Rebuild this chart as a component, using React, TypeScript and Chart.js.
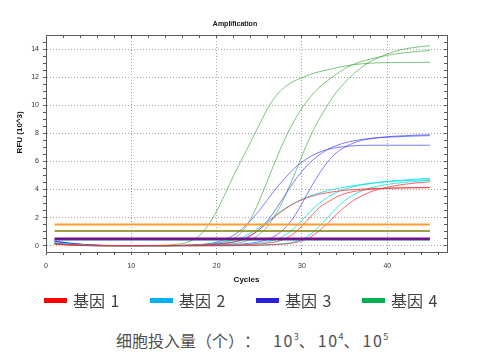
import { useEffect, useRef } from "react";
import { Chart, registerables } from "chart.js";

Chart.register(...registerables);

// ---- data ----
const cycles = [1, 2, 3, 4, 5, 6, 7, 8, 9, 10, 11, 12, 13, 14, 15, 16, 17, 18, 19, 20, 21, 22, 23, 24, 25, 26, 27, 28, 29, 30, 31, 32, 33, 34, 35, 36, 37, 38, 39, 40, 41, 42, 43, 44, 45];

// gene 1 (red)
const gene1A = [0.15, 0.1, 0.07, 0.04, 0.02, 0.01, 0, 0, 0, 0, 0, 0, 0, 0, 0.01, 0.02, 0.03, 0.05, 0.08, 0.12, 0.18, 0.28, 0.45, 0.75, 1.15, 1.65, 2.15, 2.6, 2.98, 3.28, 3.5, 3.66, 3.78, 3.87, 3.94, 3.99, 4.03, 4.06, 4.08, 4.1, 4.11, 4.12, 4.13, 4.14, 4.15];
const gene1B = [0.15, 0.1, 0.06, 0.03, 0.01, 0, 0, 0, 0, 0, 0, 0, 0, 0, 0, 0, 0, 0, 0, 0.01, 0.02, 0.03, 0.05, 0.08, 0.12, 0.18, 0.28, 0.48, 0.85, 1.4, 2.05, 2.7, 3.1, 3.45, 3.7, 3.85, 3.95, 4.01, 4.05, 4.08, 4.1, 4.11, 4.12, 4.12, 4.13];
const gene1C = [0.12, 0.08, 0.05, 0.02, 0, 0, 0, 0, 0, 0, 0, 0, 0, 0, 0, 0, 0, 0, 0, 0, 0, 0, 0.01, 0.02, 0.03, 0.05, 0.08, 0.12, 0.2, 0.35, 0.62, 1.05, 1.6, 2.2, 2.75, 3.2, 3.55, 3.82, 4.02, 4.17, 4.28, 4.37, 4.44, 4.5, 4.55];

// gene 2 (cyan)
const gene2A = [0.2, 0.14, 0.09, 0.06, 0.03, 0.01, 0, 0, 0, 0, 0, 0, 0, 0, 0.01, 0.02, 0.04, 0.07, 0.11, 0.17, 0.26, 0.4, 0.6, 0.9, 1.3, 1.75, 2.2, 2.65, 3.0, 3.3, 3.55, 3.75, 3.92, 4.05, 4.17, 4.27, 4.36, 4.44, 4.51, 4.57, 4.63, 4.68, 4.72, 4.76, 4.8];
const gene2B = [0.2, 0.14, 0.09, 0.05, 0.02, 0, 0, 0, 0, 0, 0, 0, 0, 0, 0, 0, 0, 0, 0.01, 0.02, 0.03, 0.05, 0.08, 0.12, 0.18, 0.28, 0.45, 0.75, 1.2, 1.8, 2.45, 3.0, 3.45, 3.78, 4.02, 4.2, 4.33, 4.43, 4.5, 4.56, 4.6, 4.63, 4.66, 4.68, 4.7];
const gene2C = [0.18, 0.12, 0.08, 0.04, 0.02, 0, 0, 0, 0, 0, 0, 0, 0, 0, 0, 0, 0, 0, 0, 0, 0, 0.01, 0.02, 0.03, 0.05, 0.07, 0.1, 0.15, 0.25, 0.45, 0.8, 1.35, 2.0, 2.65, 3.2, 3.6, 3.9, 4.1, 4.25, 4.36, 4.44, 4.51, 4.56, 4.61, 4.65];

// gene 3 (blue)
const gene3A = [0.35, 0.25, 0.17, 0.11, 0.07, 0.04, 0.02, 0.01, 0, 0, 0, 0, 0, 0, 0.01, 0.02, 0.04, 0.07, 0.13, 0.25, 0.45, 0.75, 1.2, 1.8, 2.5, 3.3, 4.1, 4.8, 5.45, 5.95, 6.35, 6.65, 6.85, 6.98, 7.06, 7.11, 7.14, 7.15, 7.15, 7.15, 7.15, 7.15, 7.15, 7.15, 7.15];
const gene3B = [0.3, 0.22, 0.15, 0.1, 0.06, 0.03, 0.01, 0, 0, 0, 0, 0, 0, 0, 0, 0.01, 0.02, 0.04, 0.06, 0.1, 0.15, 0.25, 0.4, 0.7, 1.15, 1.8, 2.65, 3.6, 4.5, 5.3, 5.95, 6.45, 6.85, 7.12, 7.32, 7.46, 7.56, 7.63, 7.68, 7.72, 7.75, 7.78, 7.8, 7.82, 7.83];
const gene3C = [0.3, 0.22, 0.15, 0.1, 0.06, 0.03, 0.01, 0, 0, 0, 0, 0, 0, 0, 0, 0, 0, 0.01, 0.02, 0.03, 0.05, 0.08, 0.12, 0.18, 0.28, 0.45, 0.75, 1.25, 2.0, 3.0, 4.1, 5.1, 5.95, 6.6, 7.0, 7.3, 7.5, 7.62, 7.7, 7.76, 7.8, 7.83, 7.86, 7.88, 7.9];

// gene 4 (green)
const gene4A = [0.15, 0.1, 0.07, 0.05, 0.03, 0.02, 0.01, 0, 0, 0, 0, 0.01, 0.02, 0.04, 0.08, 0.15, 0.35, 0.72, 1.45, 2.45, 3.7, 5.0, 6.2, 7.4, 8.6, 9.8, 10.7, 11.3, 11.7, 11.95, 12.2, 12.38, 12.52, 12.66, 12.78, 12.88, 12.95, 12.99, 13.02, 13.03, 13.04, 13.05, 13.05, 13.05, 13.05];
const gene4B = [0.12, 0.08, 0.05, 0.03, 0.02, 0, 0, 0, 0, 0, 0, 0, 0, 0.01, 0.02, 0.03, 0.05, 0.08, 0.12, 0.18, 0.3, 0.5, 1.0, 1.9, 3.2, 4.7, 6.2, 7.6, 8.8, 9.8, 10.6, 11.25, 11.75, 12.2, 12.6, 12.9, 13.12, 13.28, 13.42, 13.55, 13.65, 13.73, 13.8, 13.85, 13.9];
const gene4C = [0.1, 0.07, 0.04, 0.02, 0, 0, 0, 0, 0, 0, 0, 0, 0, 0, 0, 0.01, 0.02, 0.03, 0.05, 0.07, 0.1, 0.15, 0.25, 0.45, 0.8, 1.4, 2.3, 3.5, 4.9, 6.4, 7.8, 9.0, 10.0, 10.9, 11.6, 12.2, 12.7, 13.1, 13.4, 13.65, 13.85, 14.0, 14.1, 14.18, 14.24];

// threshold lines
const thresholdValues = [1.5, 1.05, 0.52, 0.43];
const thresholdColors = ["#ff9a2e", "#808000", "#8b008b", "#1f4f8f"];
const thresholdWidths = [2, 1.5, 2, 1.5];
const thresholdRange = [1, 45];

// axes
const xTickValues = [0, 2, 4, 6, 8, 10, 12, 14, 16, 18, 20, 22, 24, 26, 28, 30, 32, 34, 36, 38, 40, 42, 44, 46];
const xMajorTicks = [0, 10, 20, 30, 40];
const yTickValues = [0, 0.5, 1, 1.5, 2, 2.5, 3, 3.5, 4, 4.5, 5, 5.5, 6, 6.5, 7, 7.5, 8, 8.5, 9, 9.5, 10, 10.5, 11, 11.5, 12, 12.5, 13, 13.5, 14, 14.5];
const yMajorTicks = [0, 2, 4, 6, 8, 10, 12, 14];

// legend + caption
const legendLabels = ["基因 1", "基因 2", "基因 3", "基因 4"];
const legendColors = ["#ff0000", "#00b0f0", "#2a20dc", "#00b050"];
const curveColors = ["rgba(255,40,40,0.72)", "rgba(0,225,235,0.8)", "rgba(40,40,255,0.6)", "rgba(20,150,20,0.55)"];
const geneSeries = [
  [gene1A, gene1B, gene1C],
  [gene2A, gene2B, gene2C],
  [gene3A, gene3B, gene3C],
  [gene4A, gene4B, gene4C],
];
const captionLabel = "细胞投入量（个）";
const captionSep = "：";
const doseBase = "10";
const doseExponents = ["3", "4", "5"];

const FONT = "'Liberation Sans', Arial, sans-serif";
const AXIS = "#5a5a5a";
const GRID = "#a6a6a6";

export default function App() {
  const ref = useRef<HTMLCanvasElement>(null);
  const capRef = useRef<HTMLDivElement>(null);

  useEffect(() => {
    if (capRef.current) capRef.current.style.setProperty("text-spacing-trim", "space-all");
    if (!ref.current) return;
    const toPts = (vals: number[]) => vals.map((v, i) => ({ x: cycles[i], y: v }));

    const thresholdSets = thresholdValues.map((v, i) => ({
      data: [
        { x: thresholdRange[0], y: v },
        { x: thresholdRange[1], y: v },
      ],
      borderColor: thresholdColors[i],
      borderWidth: thresholdWidths[i],
      pointRadius: 0,
      fill: false,
      order: 0,
    }));

    const curveSets: any[] = [];
    geneSeries.forEach((group, gi) => {
      group.forEach((s) => {
        curveSets.push({
          data: toPts(s),
          borderColor: curveColors[gi],
          borderWidth: 1,
          pointRadius: 0,
          fill: false,
          cubicInterpolationMode: "monotone",
          order: 1,
        });
      });
    });

    const majorGrid = (majors: number[]) => (ctx: any) =>
      ctx.tick && majors.includes(ctx.tick.value) && ctx.tick.value !== 0 ? GRID : "rgba(0,0,0,0)";
    const majorGridY = (majors: number[]) => (ctx: any) =>
      ctx.tick && majors.includes(ctx.tick.value) ? GRID : "rgba(0,0,0,0)";

    const chart = new Chart(ref.current, {
      type: "line",
      data: { datasets: [...thresholdSets, ...curveSets] as any },
      options: {
        animation: false,
        responsive: false,
        events: [],
        layout: { padding: 0 },
        plugins: {
          legend: { display: false },
          tooltip: { enabled: false },
          title: {
            display: true,
            text: "Amplification",
            color: "#111",
            font: { family: FONT, size: 7, weight: "bold" },
            padding: { top: 19.5, bottom: 7.1 },
          },
        },
        scales: {
          x: {
            type: "linear",
            position: "bottom",
            min: 0,
            max: 47,
            afterBuildTicks: (s: any) => {
              s.ticks = xTickValues.map((v) => ({ value: v }));
            },
            afterFit: (s: any) => {
              s.height = 38;
            },
            ticks: {
              autoSkip: false,
              maxRotation: 0,
              padding: 6.5,
              color: "#333",
              font: { family: FONT, size: 7 },
              callback: (v: any) => (xMajorTicks.includes(Number(v)) ? String(v) : ""),
            },
            grid: { color: majorGrid(xMajorTicks), tickColor: AXIS, tickLength: 3, tickWidth: 1, lineWidth: 1 },
            border: { display: true, color: AXIS, dash: [1, 2] },
            title: {
              display: true,
              text: "Cycles",
              color: "#111",
              font: { family: FONT, size: 8, weight: "bold" },
              padding: { top: 0, bottom: 5.2 },
            },
          },
          x2: {
            type: "linear",
            position: "top",
            min: 0,
            max: 47,
            afterBuildTicks: (s: any) => {
              s.ticks = xTickValues.map((v) => ({ value: v }));
            },
            afterFit: (s: any) => {
              s.height = 0;
            },
            ticks: { display: false },
            grid: { drawOnChartArea: false, tickColor: AXIS, tickLength: -3, tickWidth: 1 },
            border: { display: true, color: AXIS },
          },
          y: {
            type: "linear",
            position: "left",
            min: -0.45,
            max: 15,
            afterBuildTicks: (s: any) => {
              s.ticks = yTickValues.map((v) => ({ value: v }));
            },
            afterFit: (s: any) => {
              s.width = 46;
            },
            ticks: {
              autoSkip: false,
              padding: 4,
              color: "#333",
              font: { family: FONT, size: 7 },
              callback: (v: any) => (yMajorTicks.includes(Number(v)) ? String(v) : ""),
            },
            grid: { color: majorGridY(yMajorTicks), tickColor: AXIS, tickLength: 3, tickWidth: 1, lineWidth: 1 },
            border: { display: true, color: AXIS, dash: [1, 2] },
            title: {
              display: true,
              text: "          RFU (10^3)",
              color: "#111",
              font: { family: FONT, size: 8, weight: "bold" },
              padding: { top: 15.2, bottom: 0 },
            },
          },
          y2: {
            type: "linear",
            position: "right",
            min: -0.45,
            max: 15,
            afterBuildTicks: (s: any) => {
              s.ticks = yTickValues.map((v) => ({ value: v }));
            },
            afterFit: (s: any) => {
              s.width = 23;
            },
            ticks: { display: false },
            grid: { drawOnChartArea: false, tickColor: AXIS, tickLength: -3, tickWidth: 1 },
            border: { display: true, color: AXIS },
          },
        },
      } as any,
    });
    return () => chart.destroy();
  }, []);

  return (
    <div
      style={{
        position: "absolute",
        left: 0,
        top: 0,
        width: 503,
        height: 355,
        background: "#fff",
        overflow: "hidden",
        fontFamily: "'Noto Sans CJK SC', 'Noto Sans', sans-serif",
      }}
    >
      <div style={{ position: "absolute", left: 0, top: 0, width: 470, height: 290 }}>
        <canvas ref={ref} width={470} height={290} style={{ display: "block" }} />
      </div>
      <div
        style={{
          position: "absolute",
          left: 44,
          top: 291,
          height: 19,
          display: "flex",
          alignItems: "center",
        }}
      >
        {legendLabels.map((lab, i) => (
          <div key={lab} style={{ width: 106, display: "flex", alignItems: "center" }}>
            <span style={{ display: "inline-block", width: 23, height: 5, background: legendColors[i] }} />
            <span style={{ marginLeft: 6, fontSize: 16, lineHeight: "19px", color: "#404040", whiteSpace: "pre", wordSpacing: 2 }}>{lab}</span>
          </div>
        ))}
      </div>
      <div
        ref={capRef}
        style={{
          position: "absolute",
          left: 116,
          top: 328,
          whiteSpace: "nowrap",
          fontSize: 16,
          lineHeight: "24px",
          color: "#505050",
        }}
      >
        <span>{captionLabel}</span>
        <span>{captionSep}</span>
        {doseExponents.map((e, i) => (
          <span key={e} style={{ marginLeft: i === 0 ? 13 : 3 }}>
            <span style={{ letterSpacing: 1.5 }}>{doseBase}</span>
            <sup style={{ fontSize: 9, lineHeight: 0, verticalAlign: "7px" }}>{e}</sup>
            {i < doseExponents.length - 1 ? "、" : ""}
          </span>
        ))}
      </div>
    </div>
  );
}
